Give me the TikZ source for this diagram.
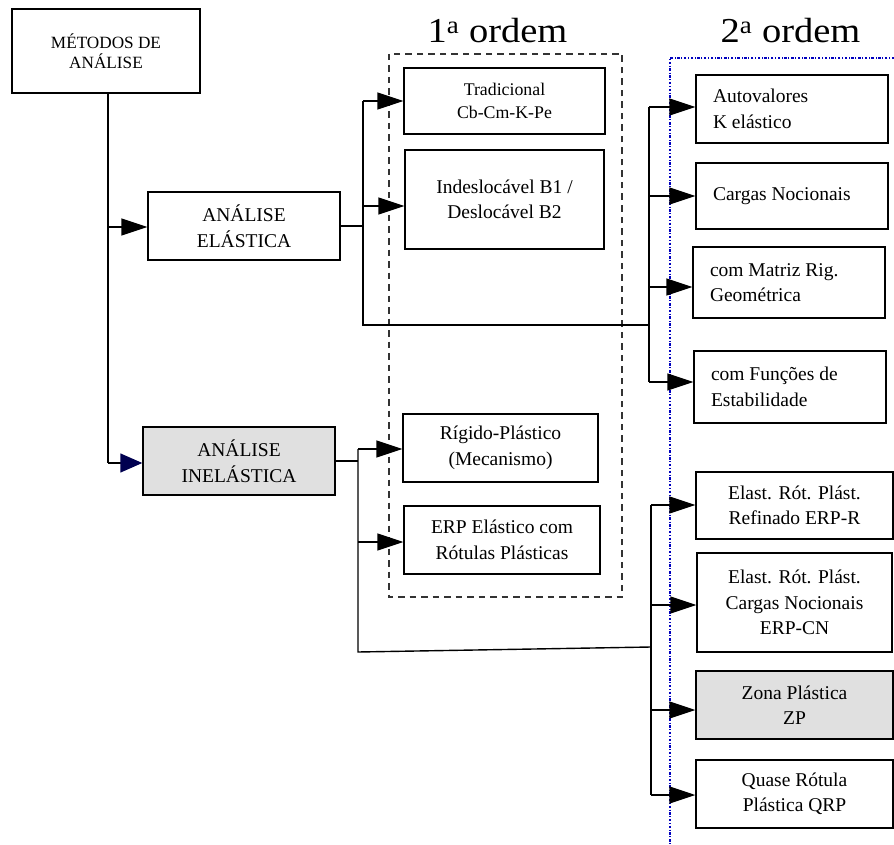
\documentclass[tikz,border=0pt]{standalone}
\usepackage{fontspec}
\setmainfont{Liberation Serif}
\usetikzlibrary{arrows.meta}
\definecolor{boxgray}{RGB}{224,224,224}
\definecolor{navytip}{RGB}{0,0,80}
\definecolor{dotblue}{RGB}{0,0,190}
\begin{document}
\begin{tikzpicture}[x=1pt,y=-1pt,
  box/.style={draw,line width=1.4pt,rectangle,inner sep=0pt,align=center,
    font=\fontsize{19.5}{25.5}\selectfont},
  lbox/.style={box,align=flush left,inner xsep=17pt,text width=158pt},
  graybox/.style={box,fill=boxgray},
  ln/.style={line width=1.4pt},
  arr/.style={ln,-{Triangle[length=26pt,width=17pt]}},
  navyarr/.style={ln,-{Triangle[length=22pt,width=19pt,color=navytip]}},
  lbl/.style={anchor=base,font=\fontsize{35}{40}\selectfont}]
\useasboundingbox (0,0) rectangle (894,845);

% containers
\draw[line width=1.4pt,black!80,dash pattern=on 6.5pt off 5pt] (389,54) rectangle (622,597);
\draw[dotblue,line width=1.5pt,dash pattern=on 2.5pt off 1.6pt on 1pt off 1.6pt] (894,58) -- (670,58) -- (670,845);
\node[lbl] (ord1) at (497.5,43) {\scalebox{1.1}[1]{1\textsuperscript{a} ordem}};
\node[lbl] (ord2) at (790.5,43) {\scalebox{1.1}[1]{2\textsuperscript{a} ordem}};

% nodes
\node[box,minimum width=188pt,minimum height=84pt,font=\fontsize{17.2}{20.5}\selectfont] (metodos) at (106,51) {MÉTODOS DE\\ANÁLISE};
\node[box,minimum width=192pt,minimum height=68pt] (elastica) at (244,226) {ANÁLISE\\ELÁSTICA};
\node[graybox,minimum width=192pt,minimum height=68pt] (inelastica) at (239,461) {ANÁLISE\\INELÁSTICA};

\node[box,minimum width=201pt,minimum height=66pt,font=\fontsize{17.8}{22.5}\selectfont] (trad) at (504.5,101) {Tradicional\\Cb-Cm-K-Pe};
\node[box,minimum width=199pt,minimum height=99pt] (indes) at (504.5,199.5) {Indeslocável B1 /\\Deslocável B2};
\node[box,minimum width=195pt,minimum height=68pt] (rigido) at (500.5,448) {Rígido-Plástico\\(Mecanismo)};
\node[box,minimum width=196pt,minimum height=68pt] (erp) at (502,540) {ERP Elástico com\\Rótulas Plásticas};

\node[lbox,minimum height=68pt] (auto) at (792,109) {Autovalores\\K elástico};
\node[lbox,minimum height=66pt] (cargas) at (792,196) {Cargas Nocionais};
\node[lbox,minimum height=71pt] (matriz) at (789,282.5) {com Matriz Rig.\\Geométrica};
\node[lbox,minimum height=72pt] (funcoes) at (790,387) {com Funções de\\Estabilidade};

\node[box,minimum width=197pt,minimum height=67pt] (refinado) at (794.5,505.5) {Elast. Rót. Plást.\\Refinado ERP-R};
\node[box,minimum width=195pt,minimum height=99pt] (erpcn) at (794.5,602.5) {Elast. Rót. Plást.\\Cargas Nocionais\\ERP-CN};
\node[graybox,minimum width=197pt,minimum height=68pt] (zp) at (794.5,705) {Zona Plástica\\ZP};
\node[box,minimum width=197pt,minimum height=68pt] (qrp) at (794.5,794) {Quase Rótula\\Plástica QRP};

% bus points
\coordinate (mj) at (108,227);
\coordinate (mb) at (108,463);
\coordinate (eb1) at (363,101);
\coordinate (eb2) at (363,206);
\coordinate (eb3) at (363,325);
\coordinate (sbj) at (649,325);
\coordinate (sb1) at (649,107);
\coordinate (sb2) at (649,196);
\coordinate (sb3) at (649,287);
\coordinate (sb4) at (649,382);
\coordinate (ib1) at (358,449);
\coordinate (ib2) at (358,542);
\coordinate (ib3) at (358,652);
\coordinate (tb0) at (651,647);
\coordinate (tb1) at (651,505);
\coordinate (tb2) at (651,605);
\coordinate (tb3) at (651,710);
\coordinate (tb4) at (651,795);

% connectors
\draw[ln] (mj |- metodos.south) -- (mb);
\draw[navyarr] (mb) -- (mb -| inelastica.west);
\draw[arr] (mj) -- (mj -| elastica.west);

\draw[ln] (elastica.east) -- (elastica.east -| eb1);
\draw[ln] (eb1) -- (eb3) -- (sbj);
\draw[ln] (sb1) -- (sb4);
\draw[arr] (eb1) -- (eb1 -| trad.west);
\draw[arr] (eb2) -- (eb2 -| indes.west);
\draw[arr] (sb1) -- (sb1 -| auto.west);
\draw[arr] (sb2) -- (sb2 -| cargas.west);
\draw[arr] (sb3) -- (sb3 -| matriz.west);
\draw[arr] (sb4) -- (sb4 -| funcoes.west);

\draw[ln] (inelastica.east) -- (inelastica.east -| ib1);
\draw[ln] (ib1) -- (ib3) -- (tb0);
\draw[ln] (tb1) -- (tb4);
\draw[arr] (ib1) -- (ib1 -| rigido.west);
\draw[arr] (ib2) -- (ib2 -| erp.west);
\draw[arr] (tb1) -- (tb1 -| refinado.west);
\draw[arr] (tb2) -- (tb2 -| erpcn.west);
\draw[arr] (tb3) -- (tb3 -| zp.west);
\draw[arr] (tb4) -- (tb4 -| qrp.west);
\end{tikzpicture}
\end{document}
